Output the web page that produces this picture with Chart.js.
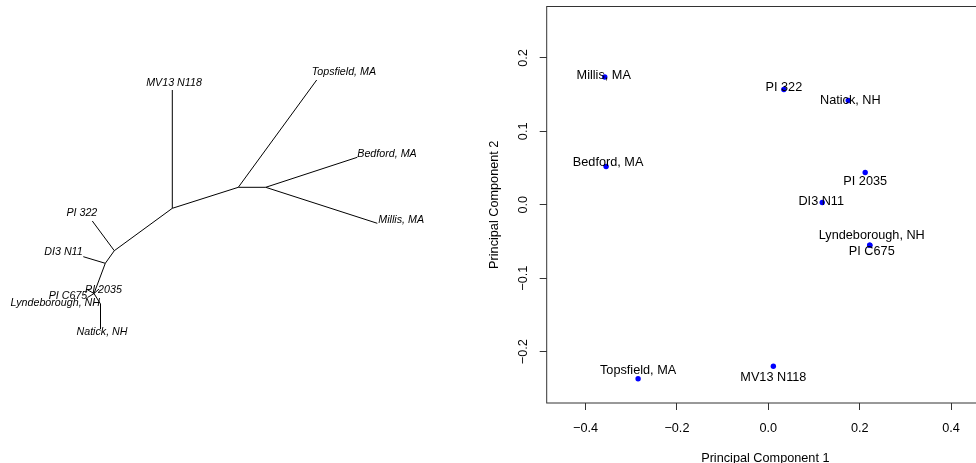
<!DOCTYPE html>
<html>
<head>
<meta charset="utf-8">
<script src="https://cdn.jsdelivr.net/npm/chart.js@4.4.1/dist/chart.umd.min.js"></script>
<style>
  html, body { margin: 0; padding: 0; background: #fff; overflow: hidden; }
  #wrap { position: relative; width: 976px; height: 463px; overflow: hidden; }
  #treeBox { position: absolute; left: 0; top: 0; width: 480px; height: 463px; }
  #pcaBox { position: absolute; left: 480px; top: 0; width: 508px; height: 463px; }
</style>
</head>
<body>
<div id="wrap">
  <div id="treeBox"><canvas id="tree" width="480" height="463"></canvas></div>
  <div id="pcaBox"><canvas id="pca" width="508" height="463"></canvas></div>
</div>
<script>
var FONT = "'Liberation Sans', Arial, Helvetica, sans-serif";

// ---- unrooted tree ----
var tipLabels = ["MV13 N118", "Topsfield, MA", "Bedford, MA", "Millis, MA", "PI 322",
                 "DI3 N11", "PI C675", "PI 2035", "Lyndeborough, NH", "Natick, NH"];
// node coordinates of the layout, tips first (same order as tipLabels), then internal nodes
var nodeX = [0.723, 2.167, 2.573, 2.773, -0.077, -0.167, -0.13, -0.01, -0.125, 0.005,
             0.723, 1.383, 1.657, 0.143, 0.053, -0.06, 0.005];
var nodeY = [2.10, 2.20, 1.427, 0.767, 0.79, 0.433, 0.105, 0.11, 0.025, -0.29,
             0.917, 1.127, 1.127, 0.493, 0.367, 0.065, -0.04];
var edgeFrom = [10, 10, 10, 11, 11, 12, 12, 13, 13, 14, 14, 15, 15, 15, 15, 16];
var edgeTo   = [0, 11, 13, 1, 12, 2, 3, 4, 14, 5, 15, 6, 7, 8, 16, 9];

// tip label placement: alignment and nudge in pixels
var tipAlign = ["center", "left", "left", "left", "right", "right", "right", "left", "right", "center"];
var tipDx = [1.7, -5, 0, 1, 5, -0.6, 0.3, -14, 12.5, 1.5];
var tipDy = [-6.7, -8, -3.3, -3.3, -8.3, -4.4, 6.8, 1, 5.5, 3.3];

// ---- principal components ----
var samples = ["Millis, MA", "PI 322", "Natick, NH", "Bedford, MA", "PI 2035",
               "DI3 N11", "Lyndeborough, NH", "PI C675", "Topsfield, MA", "MV13 N118"];
var pc1 = [-0.358, 0.034, 0.175, -0.355, 0.212, 0.118, 0.222, 0.222, -0.285, 0.011];
var pc2 = [0.174, 0.157, 0.142, 0.052, 0.044, 0.003, -0.055, -0.055, -0.237, -0.220];
var xTicks = [-0.4, -0.2, 0.0, 0.2, 0.4];
var yTicks = [-0.2, -0.1, 0.0, 0.1, 0.2];

var labelDx = [-1, 0, 2, 2, 0, -1, 2, 2, 0, 0];
var labelDy = [-1.5, -1.7, 0, -4.3, 8.7, -1.3, -9.3, 6.7, -8.3, 11.7];

function fmt(v) {
  return v.toFixed(1).replace('-', '\u2212');
}

// tree edges as two-point line segments
var edgeSets = edgeFrom.map(function(a, i) {
  var b = edgeTo[i];
  return {
    data: [{x: nodeX[a], y: nodeY[a]}, {x: nodeX[b], y: nodeY[b]}],
    showLine: true,
    borderColor: '#000',
    borderWidth: 1,
    pointRadius: 0,
    clip: false
  };
});

var tipText = {
  id: 'tipText',
  afterDatasetsDraw: function(chart) {
    var ctx = chart.ctx, sx = chart.scales.x, sy = chart.scales.y;
    ctx.save();
    ctx.font = "italic 10.7px " + FONT;
    ctx.fillStyle = '#000';
    ctx.textBaseline = 'middle';
    tipLabels.forEach(function(t, i) {
      ctx.textAlign = tipAlign[i];
      ctx.fillText(t, sx.getPixelForValue(nodeX[i]) + tipDx[i], sy.getPixelForValue(nodeY[i]) + tipDy[i]);
    });
    ctx.restore();
  }
};

new Chart("tree", {
  type: "scatter",
  data: { datasets: edgeSets },
  options: {
    responsive: false,
    animation: false,
    layout: { padding: 0 },
    plugins: { legend: { display: false }, tooltip: { enabled: false } },
    scales: {
      x: { display: false, min: -1, max: 3.8 },
      y: { display: false, min: -1.63, max: 3.0 }
    }
  },
  plugins: [tipText]
});

// box around the plot region and sample names
var frame = {
  id: 'frame',
  beforeDatasetsDraw: function(chart) {
    var a = chart.chartArea, ctx = chart.ctx;
    ctx.save();
    ctx.strokeStyle = '#333';
    ctx.lineWidth = 1;
    ctx.strokeRect(a.left, a.top, a.right - a.left, a.bottom - a.top);
    ctx.restore();
  },
  afterDatasetsDraw: function(chart) {
    var ctx = chart.ctx, meta = chart.getDatasetMeta(0);
    ctx.save();
    ctx.font = "12.7px " + FONT;
    ctx.fillStyle = '#000';
    ctx.textAlign = 'center';
    ctx.textBaseline = 'middle';
    samples.forEach(function(s, i) {
      var p = meta.data[i];
      ctx.fillText(s, p.x + labelDx[i], p.y + labelDy[i]);
    });
    ctx.restore();
  }
};

new Chart("pca", {
  type: "scatter",
  data: {
    datasets: [{
      data: pc1.map(function(v, i) { return {x: v, y: pc2[i]}; }),
      backgroundColor: '#0000ff',
      borderWidth: 0,
      pointRadius: 2.7
    }]
  },
  options: {
    responsive: false,
    animation: false,
    layout: { padding: { left: 6.5, top: 6.5, right: 0, bottom: 0 } },
    plugins: { legend: { display: false }, tooltip: { enabled: false } },
    scales: {
      x: {
        min: -0.485, max: 0.472,
        afterBuildTicks: function(s) { s.ticks = xTicks.map(function(v) { return {value: v}; }); },
        afterFit: function(s) { s.height = 60; s.paddingLeft = 0; s.paddingRight = 0; },
        grid: { drawOnChartArea: false, drawTicks: true, tickLength: 7, color: '#333' },
        border: { display: false },
        ticks: { color: '#000', padding: 11, maxRotation: 0, autoSkip: false,
                 font: { family: FONT, size: 12.7 }, callback: function(v) { return fmt(v); } },
        title: { display: true, text: 'Principal Component 1', color: '#000',
                 font: { family: FONT, size: 12.7 }, padding: { top: 0, bottom: -3 } }
      },
      y: {
        min: -0.27, max: 0.27,
        afterBuildTicks: function(s) { s.ticks = yTicks.map(function(v) { return {value: v}; }); },
        afterFit: function(s) { s.width = 60.2; s.paddingTop = 0; s.paddingBottom = 0; },
        grid: { drawOnChartArea: false, drawTicks: true, tickLength: 7, color: '#333' },
        border: { display: false },
        ticks: { color: '#000', padding: 4, minRotation: 90, maxRotation: 90, crossAlign: 'center',
                 autoSkip: false, font: { family: FONT, size: 12.7 }, callback: function(v) { return fmt(v); } },
        title: { display: true, text: 'Principal Component 2', color: '#000',
                 font: { family: FONT, size: 12.7 }, padding: { top: 0, bottom: 0 } }
      }
    }
  },
  plugins: [frame]
});
</script>
</body>
</html>
